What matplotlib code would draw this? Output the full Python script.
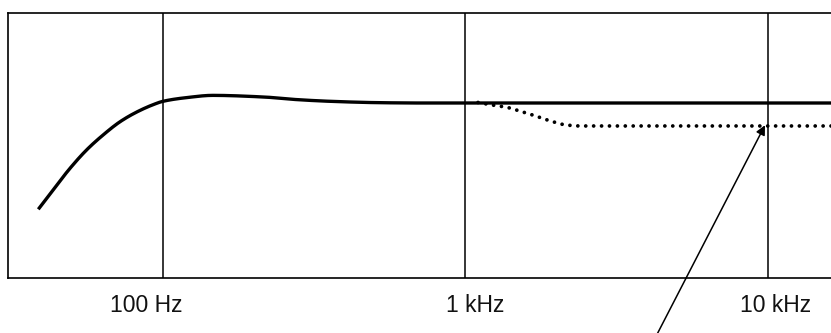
import numpy as np
import matplotlib
matplotlib.use("Agg")
import matplotlib.pyplot as plt
from matplotlib.transforms import blended_transform_factory

plt.rcParams['font.family'] = ['Liberation Sans', 'DejaVu Sans']

# Main response (Hz, dB)
main_freq = [38.7, 43.3, 49.3, 56.0, 63.5, 72.1, 81.9, 92.9, 100, 119.8, 146,
             214, 277, 356, 520, 700, 1000, 16200]
main_db = [-10.04, -8.22, -6.16, -4.41, -3.0, -1.77, -0.85, -0.15, 0.16, 0.51, 0.72,
           0.57, 0.32, 0.16, 0.03, 0.0, 0.0, 0.0]

# Alternative (dotted) high-frequency response
alt_freq = [1100, 1200, 1356, 1520, 1703, 1910, 2157, 2400, 16200]
alt_db = [0.05, -0.15, -0.38, -0.78, -1.22, -1.70, -2.08, -2.17, -2.17]

grid_freqs = [100, 1000, 10000]
tick_labels = ["100 Hz", "1 kHz", "10 kHz"]
label_freqs = [87.8, 1079, 10627]

arrow_target = (9774, -2.1)

W, H = 831, 333
fig = plt.figure(figsize=(W / 100, H / 100), dpi=100)
ax = fig.add_axes([8 / W, (H - 277.7) / H, 1 - 8 / W, (277.7 - 13) / H])
ax.set_xscale('log')
ax.set_xlim(30.73, 16155)
ax.set_ylim(-16.5, 8.5)

for f in grid_freqs:
    ax.axvline(f, color='black', lw=1.1, zorder=1)


def pchip(x, y, xn):
    x = np.asarray(x, float); y = np.asarray(y, float)
    h = np.diff(x); d = np.diff(y) / h
    m = np.zeros_like(y)
    for k in range(1, len(y) - 1):
        if d[k - 1] * d[k] > 0:
            w1 = 2 * h[k] + h[k - 1]; w2 = h[k] + 2 * h[k - 1]
            m[k] = (w1 + w2) / (w1 / d[k - 1] + w2 / d[k])
    m[0] = d[0]; m[-1] = d[-1]
    idx = np.clip(np.searchsorted(x, xn) - 1, 0, len(h) - 1)
    t = (xn - x[idx]) / h[idx]
    h00 = 2 * t**3 - 3 * t**2 + 1; h10 = t**3 - 2 * t**2 + t
    h01 = -2 * t**3 + 3 * t**2; h11 = t**3 - t**2
    return h00 * y[idx] + h10 * h[idx] * m[idx] + h01 * y[idx + 1] + h11 * h[idx] * m[idx + 1]


lf = np.log10(main_freq)
xs = np.linspace(lf[0], lf[-1], 800)
ys = pchip(lf, main_db, xs)
la = np.log10(alt_freq)
xa = np.linspace(la[0], la[-1], 400)
ya = pchip(la, alt_db, xa)

ax.plot(10 ** xa, ya, color='black', lw=2.7, linestyle=(0, (0.01, 2.1)),
        dash_capstyle='round', zorder=2, clip_on=False)
ax.plot(10 ** xs, ys, color='black', lw=2.4, solid_capstyle='butt', zorder=3)

ax.set_xticks([])
ax.set_yticks([])
ax.xaxis.set_minor_locator(matplotlib.ticker.NullLocator())
for s in ['left', 'top', 'bottom']:
    ax.spines[s].set_linewidth(1.2)
    ax.spines[s].set_color('black')
ax.spines['right'].set_visible(False)

tr = blended_transform_factory(ax.transData, fig.transFigure)
for f, t in zip(label_freqs, tick_labels):
    ax.text(f, (H - 311.7) / H, t, transform=tr, ha='center', va='baseline',
            fontsize=16.5, color='#111111')

ax.annotate('', xy=arrow_target, xycoords='data',
            xytext=(656 / W, -0.01), textcoords='figure fraction',
            arrowprops=dict(arrowstyle='-|>', color='black', lw=1.1,
                            mutation_scale=14, shrinkA=0, shrinkB=0),
            annotation_clip=False)

fig.savefig('out.png', dpi=100)
